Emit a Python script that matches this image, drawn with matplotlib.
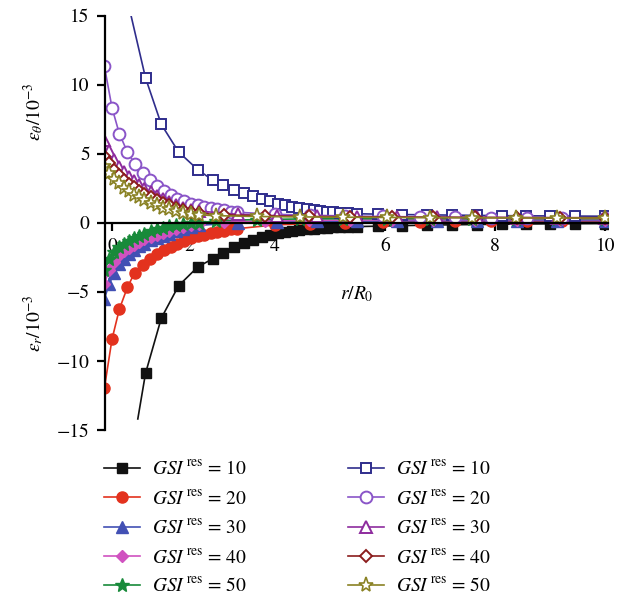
import numpy as np
import matplotlib.pyplot as plt

plt.rcParams.update({
    'font.family': 'STIXGeneral',
    'mathtext.fontset': 'stix',
    'axes.linewidth': 1.6,
    'xtick.major.width': 1.6,
    'ytick.major.width': 1.6,
})

# ---- data: r/R0 and strains (x 10^-3) ----
# GSI = 10 (curve starts with an unmarked point)
r_10 = [0.87, 1.28, 1.73, 2.20, 2.55, 2.80, 3.04, 3.27, 3.49, 3.69, 3.89, 4.05, 4.18,
        4.31, 4.44, 4.58, 4.70, 4.82, 4.94, 5.06, 5.18, 5.33, 5.49, 5.87, 6.31, 6.76,
        7.22, 7.67, 8.13, 8.56, 9.00, 9.45, 10.0]
er_10 = [-10.9, -6.9, -4.55, -3.2, -2.6, -2.15, -1.78, -1.49, -1.25, -1.06, -0.89, -0.75,
         -0.65, -0.57, -0.5, -0.45, -0.41, -0.38, -0.35, -0.33, -0.31, -0.29, -0.27,
         -0.24, -0.2, -0.17, -0.14, -0.12, -0.1, -0.08, -0.07, -0.06, -0.05]
et_10 = [10.5, 7.13, 5.13, 3.86, 3.09, 2.72, 2.41, 2.17, 1.93, 1.71, 1.55, 1.40, 1.28,
         1.16, 1.06, 0.97, 0.90, 0.85, 0.82, 0.77, 0.72, 0.68, 0.66, 0.63, 0.6, 0.58,
         0.56, 0.54, 0.52, 0.51, 0.5, 0.49, 0.48]
r0_er10, er0_10 = 0.67, -14.2
r0_et10, et0_10 = 0.37, 16.5

# GSI = 20
r_20 = [-0.2, 0.0, 0.19, 0.4, 0.59, 0.8, 0.98, 1.18, 1.35, 1.53, 1.7, 1.88, 2.05, 2.2,
        2.35, 2.51, 2.66, 2.81, 2.97, 3.12, 4.0, 4.64, 5.27, 5.96, 6.64, 7.27, 7.93,
        8.58, 9.22, 10.0]
er_20 = [-11.97, -8.43, -6.26, -4.67, -3.6, -3.05, -2.6, -2.25, -1.98, -1.72, -1.5, -1.3,
         -1.12, -0.98, -0.86, -0.75, -0.65, -0.56, -0.48, -0.42, -0.15, -0.05, 0.02,
         0.06, 0.08, 0.1, 0.11, 0.12, 0.12, 0.12]
et_20 = [11.34, 8.34, 6.46, 5.13, 4.29, 3.61, 3.09, 2.65, 2.31, 2.02, 1.76, 1.57, 1.40,
         1.26, 1.13, 1.04, 0.97, 0.90, 0.82, 0.77, 0.62, 0.55, 0.5, 0.46, 0.43, 0.4,
         0.38, 0.36, 0.35, 0.34]

# GSI = 30
r_30 = [-0.2, -0.07, 0.06, 0.19, 0.32, 0.45, 0.58, 0.71, 0.84, 1.0, 1.16, 1.32, 1.48,
        1.66, 1.84, 2.05, 2.23, 3.13, 4.04, 4.76, 5.49, 6.22, 6.95, 7.67, 8.4, 9.13, 10.0]
er_30 = [-5.5, -4.4, -3.6, -3.0, -2.6, -2.25, -1.95, -1.7, -1.5, -1.25, -1.08, -0.93,
         -0.78, -0.6, -0.45, -0.3, -0.18, 0.0, 0.06, 0.1, 0.12, 0.14, 0.15, 0.15, 0.16,
         0.16, 0.16]
et_30 = [5.98, 5.2, 4.55, 4.05, 3.65, 3.3, 3.0, 2.72, 2.47, 2.2, 1.95, 1.72, 1.5, 1.28,
         1.1, 0.95, 0.85, 0.62, 0.52, 0.47, 0.44, 0.42, 0.4, 0.39, 0.38, 0.37, 0.37]

# GSI = 40
r_40 = [-0.2, -0.07, 0.06, 0.19, 0.32, 0.45, 0.58, 0.71, 0.84, 1.0, 1.16, 1.32, 1.48,
        1.66, 1.84, 2.05, 2.23, 2.81, 3.77, 4.61, 5.36, 6.12, 6.87, 7.64, 8.39, 9.18, 10.0]
er_40 = [-4.4, -3.4, -2.8, -2.35, -2.05, -1.8, -1.58, -1.38, -1.2, -1.0, -0.85, -0.7,
         -0.56, -0.42, -0.28, -0.16, -0.07, 0.08, 0.14, 0.18, 0.2, 0.22, 0.23, 0.23,
         0.24, 0.24, 0.24]
et_40 = [4.85, 4.3, 3.85, 3.45, 3.12, 2.83, 2.57, 2.33, 2.1, 1.86, 1.64, 1.44, 1.26,
         1.08, 0.93, 0.8, 0.7, 0.58, 0.5, 0.46, 0.43, 0.41, 0.4, 0.39, 0.38, 0.37, 0.37]

# GSI = 50
r_50 = [-0.2, -0.07, 0.06, 0.19, 0.32, 0.45, 0.58, 0.71, 0.84, 1.0, 1.16, 1.32, 1.48,
        1.66, 1.84, 2.05, 2.23, 2.62, 3.58, 4.45, 5.24, 6.03, 6.82, 7.58, 8.38, 9.13, 10.0]
er_50 = [-3.4, -2.6, -2.1, -1.75, -1.5, -1.28, -1.1, -0.93, -0.78, -0.6, -0.47, -0.35,
         -0.25, -0.15, -0.07, -0.02, 0.0, 0.15, 0.24, 0.28, 0.3, 0.3, 0.3, 0.3, 0.3,
         0.3, 0.3]
et_50 = [4.1, 3.6, 3.2, 2.85, 2.55, 2.28, 2.05, 1.84, 1.65, 1.45, 1.27, 1.11, 0.97,
         0.84, 0.73, 0.64, 0.58, 0.52, 0.46, 0.43, 0.41, 0.39, 0.38, 0.37, 0.36, 0.35,
         0.35]

gsi = [10, 20, 30, 40, 50]
x_ticks = [0, 2, 4, 6, 8, 10]
y_ticks = [-15, -10, -5, 0, 5, 10, 15]

# the printed axis is not evenly spaced; reproduce it with a piecewise scale
knot_r = [-1, 0, 2, 4, 6, 8, 10, 11]
knot_u = [-38, 0, 77, 163, 273, 383, 493, 548]

def fwd(x):
    return np.interp(x, knot_r, knot_u)

def inv(u):
    return np.interp(u, knot_u, knot_r)

fig = plt.figure(figsize=(6.28, 6.01), dpi=100)
ax = fig.add_axes([105 / 628, 171 / 601, 503 / 628, 414.3 / 601])
ax.set_xscale('function', functions=(fwd, inv))

lw = 1.2
# eps_r (filled)
ax.plot([r0_er10] + r_10, [er0_10] + er_10, color='#111111', lw=lw, marker='s', ms=7,
        markevery=list(range(1, len(r_10) + 1)))
ax.plot(r_20, er_20, color='#e3321e', lw=lw, marker='o', ms=8)
ax.plot(r_30, er_30, color='#4250b4', lw=lw, marker='^', ms=8.5)
ax.plot(r_40, er_40, color='#d052c0', lw=lw, marker='D', ms=6)
ax.plot(r_50, er_50, color='#188a3a', lw=lw, marker='*', ms=10.5)
# eps_theta (open)
ax.plot([r0_et10] + r_10, [et0_10] + et_10, color='#2f2d8c', lw=lw, marker='s', ms=7.5,
        mfc='white', mew=1.4, markevery=list(range(1, len(r_10) + 1)))
ax.plot(r_20, et_20, color='#8a55c8', lw=lw, marker='o', ms=8.5, mfc='white', mew=1.4)
ax.plot(r_30, et_30, color='#8e2c9e', lw=lw, marker='^', ms=9, mfc='white', mew=1.4)
ax.plot(r_40, et_40, color='#8b1c1c', lw=lw, marker='D', ms=6.5, mfc='white', mew=1.4)
ax.plot(r_50, et_50, color='#8a8224', lw=lw, marker='*', ms=11, mfc='white', mew=1.2)

ax.set_xlim(-0.184, 10.05)
ax.set_ylim(-15, 15)
ax.set_xticks(x_ticks)
ax.set_xticklabels([str(t) for t in x_ticks])
ax.set_yticks(y_ticks)
ax.set_yticklabels([str(t).replace('-', '\u2212') for t in y_ticks])
ax.minorticks_off()
ax.spines['top'].set_visible(False)
ax.spines['right'].set_visible(False)
ax.spines['bottom'].set_position(('data', 0))
ax.tick_params(axis='both', direction='out', length=6, labelsize=14, color='black')
ax.tick_params(axis='x', pad=5)
ax.tick_params(axis='y', pad=5)
ax.set_facecolor('none')

fig.text(34 / 628, 1 - 112 / 601, r'$\varepsilon_\theta/10^{-3}$', rotation=90,
         ha='center', va='center', fontsize=14)
fig.text(34 / 628, 1 - 323 / 601, r'$\varepsilon_r/10^{-3}$', rotation=90,
         ha='center', va='center', fontsize=14)
fig.text(357 / 628, 1 - 294 / 601, r'$r/R_0$', ha='center', va='center', fontsize=14)

labels = [r'$\mathit{GSI}^{\,\mathrm{res}}$ = %d' % g for g in gsi] * 2
leg = fig.legend(ax.get_lines(), labels, loc='upper left',
                 bbox_to_anchor=(104 / 628, 1 - 460 / 601), ncol=2, frameon=False,
                 fontsize=14, handlelength=1.85, handletextpad=0.6, columnspacing=5.2,
                 labelspacing=0.55, borderpad=0, borderaxespad=0)

fig.savefig('out.png', dpi=100)
